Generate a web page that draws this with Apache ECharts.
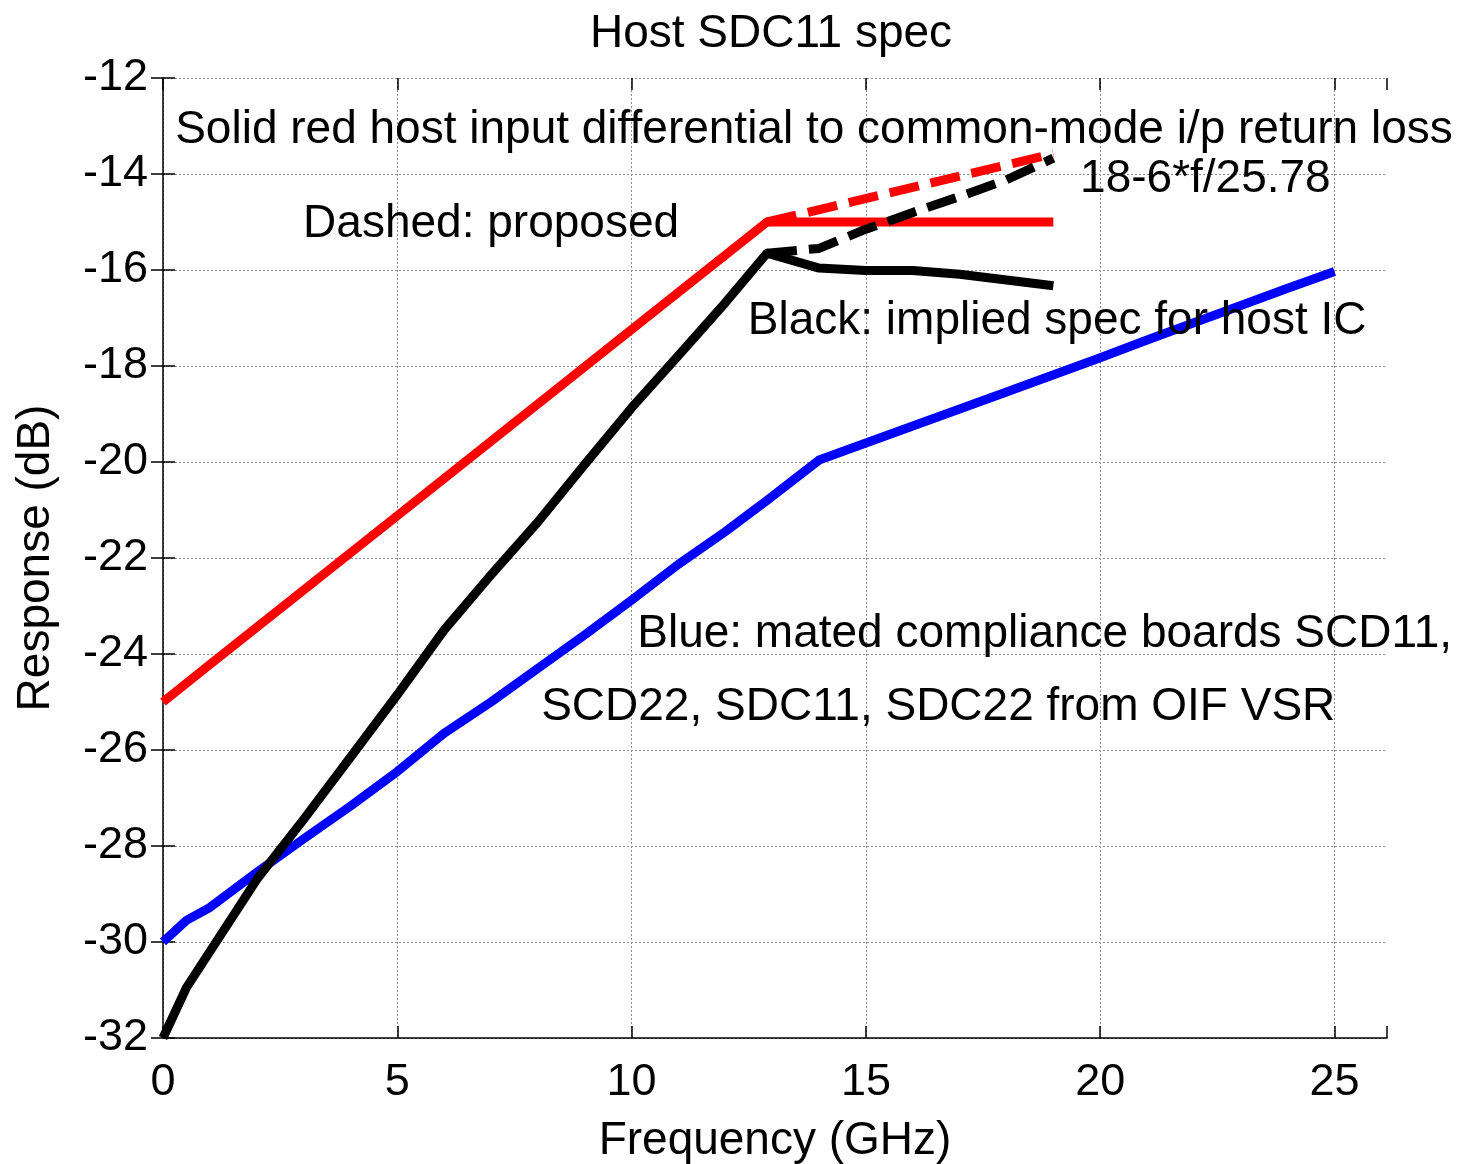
<!DOCTYPE html>
<html><head><meta charset="utf-8">
<script src="https://cdn.jsdelivr.net/npm/echarts@6/dist/echarts.min.js"></script>
<style>html,body{margin:0;padding:0;background:#fff}#c{width:1460px;height:1164px}</style>
</head><body><div id="c"></div>
<script>
// ---- data ----
const title = 'Host SDC11 spec';
const xName = 'Frequency (GHz)';
const yName = 'Response (dB)';
const xTicks = [0, 5, 10, 15, 20, 25];
const yTicks = [-32, -30, -28, -26, -24, -22, -20, -18, -16, -14, -12];

const blueX = [0, 0.5, 1, 2, 3, 4, 5, 6, 7, 8, 9, 10, 11, 12, 12.89, 14, 16, 18, 20, 21, 22, 23, 24, 25];
const blueY = [-30, -29.55, -29.28, -28.55, -27.85, -27.17, -26.45, -25.65, -25.0, -24.3, -23.6, -22.88, -22.13, -21.45, -20.8, -19.96, -19.25, -18.54, -17.83, -17.46, -17.1, -16.74, -16.38, -16.03];

const redX = [0, 1, 5, 10, 12.89, 19];
const redY = [-25, -24.22, -21.12, -17.24, -15, -15];

const redDashX = [12.89, 19];
const redDashY = [-15, -13.58];

const blackX = [0, 0.5, 1, 2, 3, 4, 5, 6, 7, 8, 9, 10, 11, 12, 12.89, 14, 15, 16, 17, 18, 19];
const blackY = [-32, -30.95, -30.2, -28.7, -27.45, -26.15, -24.85, -23.5, -22.35, -21.25, -20.05, -18.87, -17.78, -16.68, -15.65, -15.96, -16.01, -16.01, -16.09, -16.21, -16.33];

const blackDashX = [12.89, 14, 15, 16, 17, 18, 19];
const blackDashY = [-15.65, -15.55, -15.15, -14.8, -14.47, -14.12, -13.67];

const noteTexts = [
  'Solid red host input differential to common-mode i/p return loss',
  '18-6*f/25.78',
  'Dashed: proposed',
  'Black: implied spec for host IC',
  'Blue: mated compliance boards SCD11,',
  'SCD22, SDC11, SDC22 from OIF VSR'
];
const noteX = [0.26, 19.57, 2.99, 12.48, 10.12, 8.07];
const noteY = [-13.08, -14.12, -15.04, -17.06, -23.6, -25.12];

// ---- chart ----
const FONT = '"Liberation Sans", Arial, sans-serif';
const GRID_C = '#8a8a8a';
const zip = (xs, ys) => xs.map((x, i) => [x, ys[i]]);
const chart = echarts.init(document.getElementById('c'), null, {renderer: 'canvas'});

const baseX = {type: 'value', min: 0, max: 26.12, interval: 5};
const baseY = {type: 'value', min: -32, max: -12, interval: 2};
// x grid: lines at the labelled ticks, none at the axis end (26.12)
const xGridColors = xTicks.map(() => GRID_C).concat(['rgba(0,0,0,0)']);
const tick = {show: true, inside: true, length: 12, lineStyle: {color: '#000', width: 1.5}};

const option = {
  backgroundColor: '#ffffff',
  animation: false,
  title: {
    text: title, left: 766, textAlign: 'center', top: 6,
    textStyle: {fontFamily: FONT, fontSize: 46, fontWeight: 'normal', color: '#000'}
  },
  grid: {left: 163, right: 73, top: 78, bottom: 126, containLabel: false, outerBoundsMode: 'none'},
  xAxis: [
    Object.assign({}, baseX, {
      position: 'bottom',
      name: xName, nameLocation: 'middle', nameGap: 80,
      nameTextStyle: {fontFamily: FONT, fontSize: 46, color: '#000'},
      axisLine: {show: true, onZero: false, lineStyle: {color: '#000', width: 1.5}},
      axisTick: tick,
      axisLabel: {fontFamily: FONT, fontSize: 45, color: '#000', margin: 22,
        formatter: v => xTicks.includes(v) ? String(v) : ''},
      splitLine: {show: true, showMaxLine: false, lineStyle: {color: xGridColors, type: [2, 2], width: 1}}
    }),
    Object.assign({}, baseX, {
      position: 'top',
      axisLine: {show: false},
      axisTick: tick,
      axisLabel: {show: false}, splitLine: {show: false}
    })
  ],
  yAxis: [
    Object.assign({}, baseY, {
      position: 'left',
      name: yName, nameLocation: 'middle', nameGap: 104, nameRotate: 90,
      nameTextStyle: {fontFamily: FONT, fontSize: 46, color: '#000'},
      axisLine: {show: true, onZero: false, lineStyle: {color: '#000', width: 1.5}},
      axisTick: tick,
      axisLabel: {fontFamily: FONT, fontSize: 45, color: '#000', margin: 15,
        formatter: v => yTicks.includes(v) ? String(v) : ''},
      splitLine: {show: true, lineStyle: {color: GRID_C, type: [2, 2], width: 1}}
    }),
    Object.assign({}, baseY, {
      position: 'right',
      axisLine: {show: false},
      axisTick: tick,
      axisLabel: {show: false}, splitLine: {show: false}
    })
  ],
  series: [
    {name: 'blue', type: 'line', data: zip(blueX, blueY), symbol: 'none',
      lineStyle: {color: '#0000ff', width: 9, cap: 'butt', join: 'round'}, z: 2},
    {name: 'red', type: 'line', data: zip(redX, redY), symbol: 'none',
      lineStyle: {color: '#ff0000', width: 9, cap: 'butt', join: 'round'}, z: 3},
    {name: 'redDash', type: 'line', data: zip(redDashX, redDashY), symbol: 'none',
      lineStyle: {color: '#ff0000', width: 9, type: [30, 12], cap: 'butt'}, z: 3},
    {name: 'black', type: 'line', data: zip(blackX, blackY), symbol: 'none',
      lineStyle: {color: '#000000', width: 9, cap: 'butt', join: 'round'}, z: 4},
    {name: 'blackDash', type: 'line', data: zip(blackDashX, blackDashY), symbol: 'none',
      lineStyle: {color: '#000000', width: 9, type: [30, 12], cap: 'butt'}, z: 4}
  ]
};
chart.setOption(option);

const notes = noteTexts.map((t, i) => {
  const p = chart.convertToPixel({xAxisIndex: 0, yAxisIndex: 0}, [noteX[i], noteY[i]]);
  return {
    type: 'text', x: p[0], y: p[1], z: 10,
    style: {text: t, fontFamily: FONT, fontSize: 46, fill: '#000', align: 'left', verticalAlign: 'middle'}
  };
});
chart.setOption({graphic: notes});
</script>
</body></html>
